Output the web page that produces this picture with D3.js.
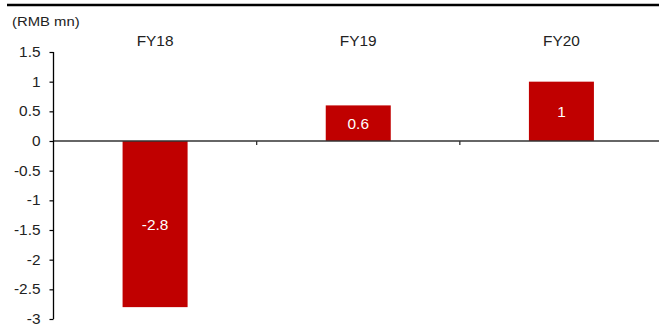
<!DOCTYPE html>
<html><head><meta charset="utf-8">
<script src="https://cdn.jsdelivr.net/npm/d3@7"></script>
<style>body{margin:0;background:#fff}svg{display:block}text{font-family:"Liberation Sans",Arial,sans-serif}</style>
</head><body><svg id="c" width="659" height="327"></svg>
<script>
const categories = ["FY18","FY19","FY20"];
const values = [-2.8, 0.6, 1];
const valueLabels = ["-2.8","0.6","1"];
const yTicks = [-3,-2.5,-2,-1.5,-1,-0.5,0,0.5,1,1.5];
const yTickLabels = ["-3","-2.5","-2","-1.5","-1","-0.5","0","0.5","1","1.5"];
const unitLabel = "(RMB mn)";

const svg = d3.select("#c");
const W = 659, H = 327;
const axisX = 53.5;
const SX = 1.1, FS = 14;
const x = d3.scaleBand().domain(categories).range([axisX, 663]).paddingInner(0.68).paddingOuter(0.34);
const y = d3.scaleLinear().domain([-3, 1.5]).range([319, 52]);

function stretched(sel, px, py){
  sel.attr("transform",(d,i)=>`translate(${px(d,i)},${py(d,i)}) scale(${SX},1)`);
}

// top border
svg.append("line").attr("x1",7).attr("x2",W).attr("y1",5).attr("y2",5).attr("stroke","#000").attr("stroke-width",2.5);

// bars
svg.selectAll("rect.bar").data(values).join("rect")
  .attr("x",(d,i)=>x(categories[i]))
  .attr("width",x.bandwidth())
  .attr("y",d=>y(Math.max(0,d)))
  .attr("height",d=>Math.abs(y(d)-y(0)))
  .attr("fill","#C00000");

// value labels
svg.selectAll("text.val").data(values).join("text")
  .attr("text-anchor","middle").attr("dominant-baseline","middle")
  .attr("fill","#fff").attr("font-size",FS)
  .call(stretched,(d,i)=>x(categories[i])+x.bandwidth()/2,d=>(y(d)+y(0))/2+2)
  .text((d,i)=>valueLabels[i]);

// zero line
svg.append("line").attr("x1",axisX).attr("x2",W).attr("y1",y(0)).attr("y2",y(0)).attr("stroke","#333").attr("stroke-width",1.3);
// category separator ticks
const step = x.step();
[1,2].forEach(i=>{
  const cx = x(categories[i]) - x.paddingInner()*step/2;
  svg.append("line").attr("x1",cx).attr("x2",cx).attr("y1",y(0)).attr("y2",y(0)+4).attr("stroke","#333").attr("stroke-width",1.3);
});

// y axis
const yAxis = d3.axisLeft(y).tickValues(yTicks).tickSize(4).tickPadding(9)
  .tickFormat((d,i)=>yTickLabels[i]);
const g = svg.append("g").attr("transform",`translate(${axisX},0)`).call(yAxis);
g.select(".domain").attr("d",`M0,${y(1.5)}V${y(-3)}`).attr("stroke","#000").attr("stroke-width",1.3);
g.selectAll(".tick line").attr("stroke","#000").attr("stroke-width",1.2);
g.selectAll(".tick text").attr("font-size",FS).attr("fill","#222")
  .attr("font-family","Liberation Sans, Arial, sans-serif")
  .attr("x",-13/SX).attr("transform",`scale(${SX},1)`);

// category labels at top
svg.selectAll("text.cat").data(categories).join("text")
  .attr("dominant-baseline","middle").attr("text-anchor","middle")
  .attr("font-size",FS).attr("fill","#222")
  .call(stretched,d=>x(d)+x.bandwidth()/2,()=>42)
  .text(d=>d);

// unit label
svg.append("text").attr("dominant-baseline","middle")
  .attr("font-size",FS-0.5).attr("fill","#222")
  .attr("transform",`translate(12,22) scale(${SX},1)`).text(unitLabel);
</script></body></html>
